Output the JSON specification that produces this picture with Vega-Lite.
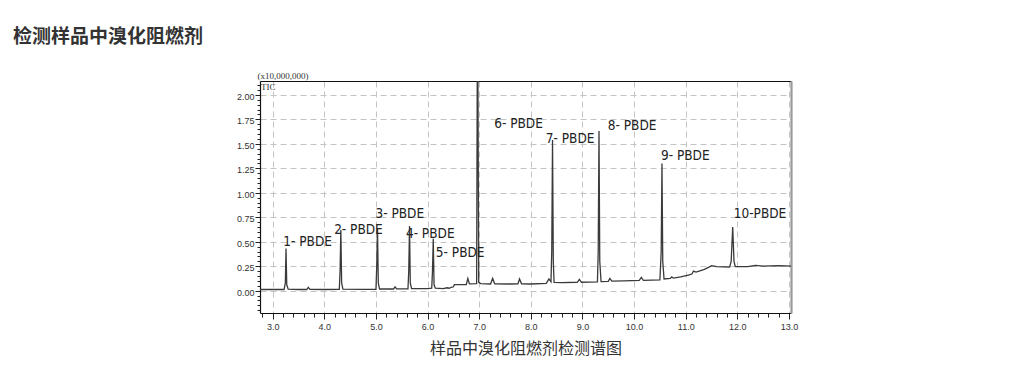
{
  "$schema": "https://vega.github.io/schema/vega-lite/v6.json",
  "width": 531,
  "height": 232,
  "autosize": {"type": "none"},
  "padding": {"left": 260, "top": 81, "right": 235, "bottom": 76},
  "background": "#ffffff",
  "config": {"view": {"stroke": null}},
  "title": {
    "text": "检测样品中溴化阻燃剂",
    "anchor": "start",
    "frame": "group",
    "dx": -247,
    "offset": 25,
    "font": "Noto Sans CJK SC",
    "fontSize": 19,
    "fontWeight": "bold",
    "color": "#333333"
  },
  "datasets": {
    "tic": [
      {"t": 2.75, "v": 0.012}, {"t": 3.0, "v": 0.012}, {"t": 3.22, "v": 0.012},
      {"t": 3.245, "v": 0.08}, {"t": 3.258, "v": 0.43}, {"t": 3.272, "v": 0.06}, {"t": 3.3, "v": 0.015},
      {"t": 3.5, "v": 0.012}, {"t": 3.66, "v": 0.012}, {"t": 3.69, "v": 0.035}, {"t": 3.72, "v": 0.013},
      {"t": 4.0, "v": 0.012}, {"t": 4.29, "v": 0.013}, {"t": 4.305, "v": 0.2}, {"t": 4.32, "v": 0.62},
      {"t": 4.335, "v": 0.08}, {"t": 4.36, "v": 0.016}, {"t": 4.7, "v": 0.014},
      {"t": 5.0, "v": 0.014}, {"t": 5.015, "v": 0.25}, {"t": 5.03, "v": 0.64}, {"t": 5.045, "v": 0.08},
      {"t": 5.07, "v": 0.017}, {"t": 5.34, "v": 0.017}, {"t": 5.37, "v": 0.04}, {"t": 5.4, "v": 0.018},
      {"t": 5.62, "v": 0.018}, {"t": 5.635, "v": 0.2}, {"t": 5.65, "v": 0.66}, {"t": 5.665, "v": 0.08},
      {"t": 5.69, "v": 0.02}, {"t": 6.0, "v": 0.02}, {"t": 6.08, "v": 0.025}, {"t": 6.095, "v": 0.2},
      {"t": 6.11, "v": 0.53}, {"t": 6.125, "v": 0.06}, {"t": 6.15, "v": 0.025}, {"t": 6.3, "v": 0.022},
      {"t": 6.38, "v": 0.03}, {"t": 6.42, "v": 0.025}, {"t": 6.46, "v": 0.035}, {"t": 6.5, "v": 0.04},
      {"t": 6.52, "v": 0.062}, {"t": 6.75, "v": 0.063}, {"t": 6.78, "v": 0.125}, {"t": 6.81, "v": 0.07},
      {"t": 6.95, "v": 0.072}, {"t": 6.964, "v": 2.6}, {"t": 6.972, "v": 2.6}, {"t": 6.99, "v": 0.085},
      {"t": 7.03, "v": 0.072}, {"t": 7.22, "v": 0.068}, {"t": 7.26, "v": 0.125}, {"t": 7.3, "v": 0.07},
      {"t": 7.6, "v": 0.068}, {"t": 7.75, "v": 0.07}, {"t": 7.78, "v": 0.12}, {"t": 7.82, "v": 0.07},
      {"t": 8.0, "v": 0.068}, {"t": 8.3, "v": 0.075}, {"t": 8.35, "v": 0.12}, {"t": 8.39, "v": 0.09},
      {"t": 8.405, "v": 0.4}, {"t": 8.42, "v": 1.54}, {"t": 8.435, "v": 0.3}, {"t": 8.45, "v": 0.085},
      {"t": 8.6, "v": 0.083}, {"t": 8.9, "v": 0.086}, {"t": 8.94, "v": 0.115}, {"t": 8.98, "v": 0.086},
      {"t": 9.29, "v": 0.09}, {"t": 9.305, "v": 0.4}, {"t": 9.32, "v": 1.63}, {"t": 9.335, "v": 0.3},
      {"t": 9.36, "v": 0.092}, {"t": 9.5, "v": 0.095}, {"t": 9.53, "v": 0.125}, {"t": 9.57, "v": 0.097},
      {"t": 9.8, "v": 0.1}, {"t": 10.1, "v": 0.105}, {"t": 10.14, "v": 0.135}, {"t": 10.18, "v": 0.106},
      {"t": 10.5, "v": 0.11}, {"t": 10.525, "v": 0.4}, {"t": 10.54, "v": 1.3}, {"t": 10.555, "v": 0.3},
      {"t": 10.58, "v": 0.12}, {"t": 10.7, "v": 0.125}, {"t": 10.73, "v": 0.14}, {"t": 10.76, "v": 0.128},
      {"t": 10.9, "v": 0.14}, {"t": 11.05, "v": 0.16}, {"t": 11.12, "v": 0.17}, {"t": 11.15, "v": 0.2},
      {"t": 11.2, "v": 0.19}, {"t": 11.35, "v": 0.215}, {"t": 11.45, "v": 0.24}, {"t": 11.5, "v": 0.255},
      {"t": 11.6, "v": 0.245}, {"t": 11.85, "v": 0.242}, {"t": 11.88, "v": 0.3}, {"t": 11.91, "v": 0.65},
      {"t": 11.935, "v": 0.3}, {"t": 11.96, "v": 0.245}, {"t": 12.2, "v": 0.245}, {"t": 12.35, "v": 0.258},
      {"t": 12.5, "v": 0.25}, {"t": 12.8, "v": 0.255}, {"t": 13.04, "v": 0.25}
    ],
    "labels": [
      {"t": 3.205, "v": 0.5, "name": "1- PBDE"},
      {"t": 4.19, "v": 0.62, "name": "2- PBDE"},
      {"t": 4.99, "v": 0.78, "name": "3- PBDE"},
      {"t": 5.58, "v": 0.58, "name": "4- PBDE"},
      {"t": 6.16, "v": 0.39, "name": "5- PBDE"},
      {"t": 7.29, "v": 1.7, "name": "6- PBDE"},
      {"t": 8.29, "v": 1.55, "name": "7- PBDE"},
      {"t": 9.49, "v": 1.68, "name": "8- PBDE"},
      {"t": 10.52, "v": 1.38, "name": "9- PBDE"},
      {"t": 11.93, "v": 0.78, "name": "10-PBDE"}
    ],
    "tag": [
      {"t": 2.773, "v": 2.08, "name": "TIC"}
    ]
  },
  "resolve": {"axis": {"x": "independent", "y": "independent"}},
  "layer": [
    {
      "data": {"name": "tic"},
      "mark": {"type": "line", "color": "#3a3a3a", "strokeWidth": 1.3, "clip": true, "interpolate": "linear"},
      "encoding": {
        "x": {
          "field": "t", "type": "quantitative",
          "scale": {"domain": [2.754, 13.039], "nice": false, "zero": false},
          "axis": {
            "orient": "bottom",
            "values": [3, 4, 5, 6, 7, 8, 9, 10, 11, 12, 13],
            "format": ".1f",
            "title": "样品中溴化阻燃剂检测谱图",
            "titleFont": "Noto Sans CJK SC",
            "titleFontSize": 16,
            "titleFontWeight": "normal",
            "titleColor": "#333333",
            "titlePadding": 9,
            "labelFont": "Liberation Sans",
            "labelFontSize": 9,
            "labelColor": "#333333",
            "labelPadding": 3,
            "tickSize": 6,
            "tickColor": "#222222",
            "domainColor": "#111111",
            "domainWidth": 1.2,
            "grid": true,
            "gridColor": "#c4c4c4",
            "gridDash": [6, 4],
            "gridWidth": 1
          }
        },
        "y": {
          "field": "v", "type": "quantitative",
          "scale": {"domain": [-0.228, 2.142], "nice": false, "zero": false},
          "axis": {
            "orient": "left",
            "values": [0, 0.25, 0.5, 0.75, 1, 1.25, 1.5, 1.75, 2],
            "format": ".2f",
            "title": "(x10,000,000)",
            "titleAngle": 0,
            "titleAlign": "left",
            "titleBaseline": "middle",
            "titleX": -3,
            "titleY": -5.5,
            "titleFont": "Liberation Serif",
            "titleFontSize": 9,
            "titleFontWeight": "normal",
            "titleColor": "#333333",
            "labelFont": "Liberation Sans",
            "labelFontSize": 9,
            "labelColor": "#333333",
            "labelPadding": 1,
            "labelOffset": 1.5,
            "tickSize": 5,
            "tickColor": "#222222",
            "domainColor": "#111111",
            "domainWidth": 1.2,
            "grid": true,
            "gridColor": "#c4c4c4",
            "gridDash": [6, 4],
            "gridWidth": 1
          }
        }
      }
    },
    {
      "data": {"name": "labels"},
      "mark": {
        "type": "text", "align": "left", "baseline": "middle",
        "font": "Liberation Sans Narrow, DejaVu Sans Condensed, Liberation Sans, sans-serif",
        "fontSize": 13.5, "color": "#222222"
      },
      "encoding": {
        "x": {
          "field": "t", "type": "quantitative",
          "scale": {"domain": [2.754, 13.039], "nice": false, "zero": false},
          "axis": {
            "orient": "bottom",
            "values": [2.8, 3.2, 3.4, 3.6, 3.8, 4.2, 4.4, 4.6, 4.8, 5.2, 5.4, 5.6, 5.8, 6.2, 6.4, 6.6, 6.8, 7.2, 7.4, 7.6, 7.8, 8.2, 8.4, 8.6, 8.8, 9.2, 9.4, 9.6, 9.8, 10.2, 10.4, 10.6, 10.8, 11.2, 11.4, 11.6, 11.8, 12.2, 12.4, 12.6, 12.8],
            "labels": false, "domain": false, "grid": false, "title": null,
            "tickSize": 4, "tickColor": "#222222"
          }
        },
        "y": {
          "field": "v", "type": "quantitative",
          "scale": {"domain": [-0.228, 2.142], "nice": false, "zero": false},
          "axis": {
            "orient": "left",
            "values": [-0.2, -0.15, -0.1, -0.05, 0.05, 0.1, 0.15, 0.2, 0.3, 0.35, 0.4, 0.45, 0.55, 0.6, 0.65, 0.7, 0.8, 0.85, 0.9, 0.95, 1.05, 1.1, 1.15, 1.2, 1.3, 1.35, 1.4, 1.45, 1.55, 1.6, 1.65, 1.7, 1.8, 1.85, 1.9, 1.95, 2.05, 2.1],
            "labels": false, "domain": false, "grid": false, "title": null,
            "tickSize": 3, "tickColor": "#222222"
          }
        },
        "text": {"field": "name", "type": "nominal"}
      }
    },
    {
      "data": {"name": "tag"},
      "mark": {
        "type": "text", "align": "left", "baseline": "middle",
        "font": "Liberation Serif", "fontSize": 9, "color": "#333333"
      },
      "encoding": {
        "x": {
          "field": "t", "type": "quantitative",
          "scale": {"domain": [2.754, 13.039], "nice": false, "zero": false},
          "axis": {
            "orient": "top", "labels": false, "ticks": false, "grid": false, "title": null,
            "domain": true, "domainColor": "#111111", "domainWidth": 1.2
          }
        },
        "y": {
          "field": "v", "type": "quantitative",
          "scale": {"domain": [-0.228, 2.142], "nice": false, "zero": false},
          "axis": {
            "orient": "right", "labels": false, "ticks": false, "grid": false, "title": null,
            "domain": true, "domainColor": "#9a9a9a", "domainWidth": 2.2
          }
        },
        "text": {"field": "name", "type": "nominal"}
      }
    }
  ]
}
